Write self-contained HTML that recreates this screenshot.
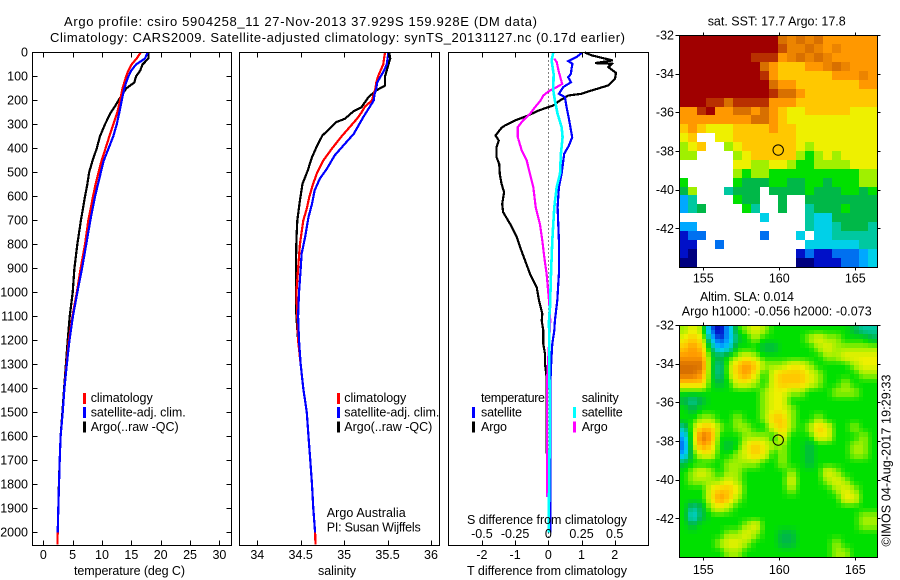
<!DOCTYPE html>
<html lang="en">
<head>
<meta charset="utf-8">
<title>Argo profile csiro 5904258_11</title>
<style>
html,body{margin:0;padding:0;background:#fff;width:900px;height:580px;overflow:hidden}
svg{display:block}
text{font-family:"Liberation Sans",sans-serif;font-size:12.5px;fill:#000}
</style>
</head>
<body>
<svg id="chart" width="900" height="580" viewBox="0 0 900 580" xmlns="http://www.w3.org/2000/svg">
  <rect x="0" y="0" width="900" height="580" fill="#fff"/>
  <text x="64" y="26" style="font-size:13px" textLength="473" lengthAdjust="spacing">Argo profile: csiro 5904258_11 27-Nov-2013 37.929S 159.928E (DM data)</text>
  <text x="50" y="42" style="font-size:13px" textLength="575" lengthAdjust="spacing">Climatology: CARS2009. Satellite-adjusted climatology: synTS_20131127.nc (0.17d earlier)</text>

  <g id="panel-temp"></g>
  <g id="panel-sal"></g>
  <g id="panel-diff"></g>
  <g id="map-sst"></g>
  <g id="map-sla"></g>

  <text x="74" y="575" textLength="111" lengthAdjust="spacing">temperature (deg C)</text>
  <text x="318" y="575" textLength="38" lengthAdjust="spacing">salinity</text>
  <text x="467" y="575" textLength="160" lengthAdjust="spacing">T difference from climatology</text>
  <text x="467" y="524" textLength="160" lengthAdjust="spacing">S difference from climatology</text>

  <g>
    <rect x="83" y="393" width="3" height="11" fill="#f00"/>
    <text x="90.7" y="402" textLength="62" lengthAdjust="spacing">climatology</text>
    <rect x="83" y="407" width="3" height="11" fill="#00f"/>
    <text x="90.7" y="416.5" textLength="95" lengthAdjust="spacing">satellite-adj. clim.</text>
    <rect x="83" y="421.5" width="3" height="11" fill="#000"/>
    <text x="90.7" y="431" textLength="88" lengthAdjust="spacing">Argo(..raw -QC)</text>
  </g>
  <g>
    <rect x="337" y="393" width="3" height="11" fill="#f00"/>
    <text x="344.3" y="402" textLength="62" lengthAdjust="spacing">climatology</text>
    <rect x="337" y="407" width="3" height="11" fill="#00f"/>
    <text x="344.3" y="416.5" textLength="95" lengthAdjust="spacing">satellite-adj. clim.</text>
    <rect x="337" y="421.5" width="3" height="11" fill="#000"/>
    <text x="344.3" y="431" textLength="88" lengthAdjust="spacing">Argo(..raw -QC)</text>
  </g>
  <text x="326.7" y="517" textLength="79" lengthAdjust="spacing">Argo Australia</text>
  <text x="326.7" y="531.5" textLength="94" lengthAdjust="spacing">PI: Susan Wijffels</text>

  <g>
    <text x="481" y="402" textLength="64" lengthAdjust="spacing">temperature</text>
    <rect x="472" y="407" width="3" height="11" fill="#00f"/>
    <text x="481" y="416.5" textLength="41" lengthAdjust="spacing">satellite</text>
    <rect x="472" y="421.5" width="3" height="11" fill="#000"/>
    <text x="481" y="431" textLength="26" lengthAdjust="spacing">Argo</text>
    <text x="581.7" y="402" textLength="37" lengthAdjust="spacing">salinity</text>
    <rect x="573" y="407" width="3" height="11" fill="#0ff"/>
    <text x="581.7" y="416.5" textLength="41" lengthAdjust="spacing">satellite</text>
    <rect x="573" y="421.5" width="3" height="11" fill="#f0f"/>
    <text x="581.7" y="431" textLength="26" lengthAdjust="spacing">Argo</text>
  </g>

  <text x="707.7" y="25.7" textLength="138" lengthAdjust="spacing">sat. SST: 17.7  Argo: 17.8</text>
  <text x="700" y="301" textLength="94" lengthAdjust="spacing">Altim. SLA: 0.014</text>
  <text x="681.7" y="315.7" textLength="190" lengthAdjust="spacing">Argo h1000: -0.056  h2000: -0.073</text>
  <text transform="translate(890.5,546.5) rotate(-90)" textLength="172" lengthAdjust="spacing">©IMOS 04-Aug-2017 19:29:33</text>
</svg>
<script>
// ---- Axis tick values ----
const depthTicks = [0,100,200,300,400,500,600,700,800,900,1000,1100,1200,1300,1400,1500,1600,1700,1800,1900,2000];
const tempTicks = [0,5,10,15,20,25,30];
const salTicks = [34,34.5,35,35.5,36];
const salTickLabels = ['34','34.5','35','35.5','36'];
const diffTTicks = [-2,-1,0,1,2];
const diffTTickLabels = ['-2','-1','0','1','2'];
const diffSTicks = [-0.5,-0.25,0,0.25,0.5];
const diffSTickLabels = ['-0.5','-0.25','0','0.25','0.5'];
const lonTicks = [155,160,165];
const latTicks = [-32,-34,-36,-38,-40,-42];

// ---- Temperature profiles (deg C) ----
const tempDepths = [0,25,50,75,100,125,150,200,225,250,300,350,400,450,500,550,600,700,800,900,1000,1100,1200,1300,1400,1500,1600,1700,1800,1900,2000,2050];
const tempClim = [16.6,15.9,15.05,14.5,14.1,13.8,13.5,13.07,12.85,12.6,11.9,11.25,10.6,9.94,9.4,8.9,8.47,7.67,7.1,6.36,5.7,4.95,4.35,3.95,3.6,3.3,2.95,2.8,2.67,2.55,2.45,2.4];
const tempSat = [17.8,17.3,15.8,15,14.5,14.1,13.8,13.35,13.15,12.95,12.5,11.9,11.1,10.3,9.8,9.3,8.8,8,7.3,6.6,5.8,5.05,4.45,4,3.6,3.3,2.95,2.8,2.67,2.55,2.45,null];
const tempArgo = [17.9,17.9,16.9,16.5,15.8,15.5,14.1,12.8,12.2,11.5,10.5,9.65,9.1,8.4,7.8,7.5,7.1,6.4,5.8,5.3,5,4.5,4.15,3.85,3.55,3.25,2.95,2.8,2.65,2.55,2.45,null];

// ---- Salinity profiles ----
const salClimDepths = [0,25,50,75,100,125,150,175,200,225,250,275,300,350,400,450,500,550,600,650,700,800,900,1000,1100,1200,1300,1400,1500,1600,1700,1800,1900,2000,2050];
const salClim = [35.47,35.46,35.45,35.42,35.39,35.37,35.36,35.34,35.32,35.24,35.2,35.15,35.09,34.97,34.86,34.76,34.69,34.64,34.6,34.57,34.53,34.49,34.47,34.45,34.46,34.47,34.5,34.53,34.57,34.59,34.61,34.63,34.645,34.665,34.67];
const salSatDepths = [0,25,50,75,100,125,150,175,200,269,339,388,429,485,526,575,631,686,769,839,900,1000,1100,1200,1300,1400,1500,1600,1700,1800,1900,2000];
const salSat = [35.51,35.5,35.49,35.46,35.42,35.38,35.37,35.35,35.34,35.22,35.11,34.99,34.89,34.8,34.72,34.66,34.63,34.59,34.55,34.51,34.5,34.48,34.47,34.48,34.5,34.53,34.57,34.59,34.61,34.63,34.645,34.665];
const salArgoDepths = [0,25,50,100,138,158,186,228,244,276,290,322,346,388,436,492,547,617,700,783,900,1000,1100,1200,1300,1400,1500,1600,1700,1800,1900,2000];
const salArgo = [35.52,35.53,35.51,35.47,35.47,35.37,35.28,35.2,35.11,35.01,34.91,34.82,34.75,34.69,34.63,34.58,34.52,34.49,34.46,34.45,34.445,34.445,34.45,34.47,34.5,34.53,34.57,34.59,34.61,34.63,34.645,34.665];

// ---- Differences from climatology ----
const dTArgoDepths = [0,12,22,33,44,47,61,85,110,137,158,172,179,200,221,242,262,283,304,314,346,367,394,436,464,506,547,582,631,665,714,769,811,867,922,978,1033,1089,1117,1158,1214,1256,1297,1353,1853];
const dTArgo = [1.10,1.31,1.61,1.94,1.41,1.91,1.81,2.04,2.01,1.81,1.31,1.0,0.6,0.35,0.15,-0.3,-0.6,-1.0,-1.31,-1.41,-1.59,-1.49,-1.56,-1.56,-1.48,-1.46,-1.41,-1.33,-1.39,-1.36,-1.15,-0.95,-0.85,-0.7,-0.55,-0.35,-0.28,-0.18,-0.2,-0.15,-0.15,-0.1,-0.1,-0.05,-0.04];
const dTSatDepths = [0,19,36,47,68,89,103,124,144,172,186,228,283,353,388,422,506,561,644,783,922,1033,1117,1158,1214,1283,1353,1464,2000];
const dTSat = [1.02,0.85,0.6,0.73,0.7,0.68,0.6,0.68,0.45,0.32,0.5,0.55,0.63,0.72,0.62,0.48,0.4,0.32,0.28,0.32,0.32,0.27,0.2,0.18,0.12,0.09,0.07,0.07,0.07];
const dSArgoDepths = [26,40,82,131,144,158,179,200,228,256,283,311,353,408,450,506,561,644,714,783,853,922,1033,1117,1367,1853];
const dSArgo = [0.045,0.063,0.08,0.105,0.063,0.013,-0.038,-0.058,-0.1,-0.138,-0.19,-0.23,-0.23,-0.2,-0.163,-0.138,-0.113,-0.095,-0.063,-0.045,-0.03,-0.013,0.005,0.015,-0.01,-0.01];
const dSSatDepths = [0,33,89,158,200,256,311,353,422,506,561,644,783,922,1061,1117,1339,1533,2000];
const dSSat = [0.038,0.025,0.04,0.038,0.05,0.07,0.1,0.108,0.095,0.088,0.063,0.045,0.03,0.02,0.013,0.005,0.008,0.012,0.002];

// ---- Float position ----
const floatLon = 159.928;
const floatLat = -37.929;

// ---- Map colour levels (0 navy ... 7 green ... 14 dark red); _ = no data ----
const _ = null;
const sstRows = [
[14,14,14,14,14,14,14,14,14,14,14,12,11.5,12,11.5,12,11,11,11,11,11,11],
[14,14,14,14,14,14,14,14,14,14,14,12.5,11.5,11.5,12,11.5,11,11.5,11,11,11,11],
[14,14,14,14,14,14,14,14,13,13,13,11,11.5,12,11.5,12,11.5,11,11,11,11,11],
[14,14,14,14,14,14,14,14,14,12,11,10,10,10,11,11,11.5,12,11.5,11,11,11],
[14,14,14,14,14,14,14,14,14,13,11,10,10,10,10,10,10,11,11,11,11.5,11],
[14,14,14,14,14,14,14,14,14,14,12,11,11,10,10,10,10,10,10,10,11,11],
[14,14,14,14,14,14,14,14,14,14,13,12,12,11,10,10,10,10,10,10,10,10],
[14,14,14,13,13,12,13,13,13,13,11,11,11,10,10,10,10,10,10,10,10,10],
[11,11,13,14,11,11,12,12,11,12,11,10,9,9,10,10,10,10,10,9,9,9],
[11,11,11,11,11,11,11,11,12,12,11,10,9,9,9,9,9,9,9,9,9,9],
[10,11,10,9,9,9,10,10,10,10,11,10,10,9,9,9,9,9,9,9,9,9],
[9,10,_,_,9,9,10,10,10,10,10,10,10,9,9,9,9,9,9,9,9,9],
[8,9,10,_,_,8,9,10,10,10,10,10,10,9,8,9,9,9,9,9,9,9],
[8,8,_,_,_,_,8,9,10,10,10,10,10,8,7,8,9,8,9,9,9,9],
[_,_,_,_,_,_,9,9,8,8,9,9,8,7,7,8,8,8,8,9,9,9],
[_,_,_,_,_,_,8,7,8,8,7,7,7,7,7,7,7,7,7,7,8,8],
[7,_,_,_,_,_,7,6,6,6,7,7,6,6,7,7,6,7,7,7,8,8],
[6,8,_,_,_,5,6,6,6,_,6,6,6,6,7,6,6,6,7,7,6,7],
[3,5,_,_,_,_,7,6,6,_,_,6,_,_,6,6,6,6,6,6,6,6],
[3,5,6,_,_,_,_,7,5,_,_,6,_,_,5,6,6,6,7,6,6,6],
[_,_,_,_,_,_,_,_,_,4,_,_,_,_,5,4,4,6,6,6,6,6],
[3,3,_,_,_,_,_,_,_,_,_,_,_,_,5,4,4,5,6,6,6,5],
[1,2,2,_,_,_,_,_,_,2,_,_,_,4,_,4,4,5,5,5,5,5],
[1,1,_,_,2,_,_,_,_,_,_,_,_,_,4,4,4,4,4,4,5,5],
[1,0,_,_,_,_,_,_,_,_,_,_,_,1,2,1,1,2,2,2,3,4],
[0,0,_,_,_,_,_,_,_,_,_,_,_,0,0,1,1,1,2,2,3,4]
];
const slaRows = [
[8,9,8,2,0.5,3,7,8,9,8,7,7,7,7,7,7,7,7,7,6,5,5],
[9,10,9,4,1,3,6,7,8,7,7,7,7,7,8,9,8,8,7,7,7,6],
[10,11,10,6,3,4,7,7,7,6,6,7,7,7,7,8,9,8,8,8,8,8],
[11,11,11,7,6,7,8,9,8,7,7,7,7,7,7,7,8,8,9,9,9,9],
[12,12,12,7,5,8,10,11,10,8,8,8,9,9,8,7,7,7,7,8,9,9],
[12,12,11,7,5,8,10,11,9,7,9,10,10,10,9,8,7,7,7,7,8,8],
[10,10,10,7,6,7,9,9,8,7,9,10,10,10,9,8,7,7,8,7,7,7],
[7,7,7,7,7,7,7,7,7,8,9,9,8,8,7,7,7,8,8,8,7,7],
[6,5,6,7,7,7,7,7,7,8,9,9,7,7,7,7,7,7,7,7,7,7],
[7,6,7,7,7,7,7,7,7,8,9,9,8,7,7,7,7,7,7,7,7,7],
[7,7,8,8,7,7,8,7,7,8,10,10,8,7,7,8,7,7,7,7,7,7],
[5,8,10,10,8,7,8,8,7,7,9,10,8,7,8,10,9,7,7,8,7,7],
[3,8,12,11,7,7,7,8,8,8,7,9,7,7,7,9,9,7,7,7,8,7],
[2,8,11,10,7,6,7,9,10,9,8,8,7,7,6,7,7,7,7,8,8,7],
[3,7,9,9,7,7,8,9,10,9,7,8,7,7,6,7,7,7,7,8,8,7],
[6,7,7,7,7,8,8,8,8,7,7,8,7,7,6,7,7,7,7,7,7,7],
[7,8,9,8,7,8,8,7,7,7,7,7,8,7,7,7,9,8,7,7,7,7],
[7,8,8,8,8,9,8,7,7,7,7,7,9,7,7,7,8,9,8,7,7,7],
[7,7,7,9,10,10,9,7,7,7,7,7,8,7,7,7,7,8,9,8,7,7],
[7,7,7,9,11,10,8,7,7,7,7,7,7,7,7,7,7,7,9,9,7,7],
[7,5,6,8,9,8,7,7,7,7,7,7,7,7,7,7,7,7,7,7,7,7],
[7,4,6,7,7,7,7,7,7,7,7,7,7,7,7,7,7,7,7,7,8,8],
[7,6,7,7,7,7,7,8,9,7,7,7,7,7,7,7,7,7,7,7,8,8],
[7,7,7,7,7,8,8,9,8,7,7,6,6,7,7,7,7,7,7,7,7,7],
[7,7,7,7,8,9,9,8,7,7,7,6,6,7,7,7,7,8,7,7,7,7],
[7,7,7,7,7,8,8,7,7,7,7,7,7,7,7,7,7,8,8,7,7,7]
];
const levelColors = ['#00007f','#0010c8','#0070f0','#00a8ff','#00d0e8','#00c8a0','#00b848','#00e000','#a0f000','#eef000','#ffc800','#ff9800','#d87000','#b83000','#a00000'];

// ---- Scales ----
const NS = 'http://www.w3.org/2000/svg';
const yDepth = d => 52.5 + d * 0.24;
const xTemp = t => 43.3 + t * 5.87;
const xSal = s => 257.3 + (s - 34) * 86.85;
const xDT = t => 548.3 + t * 33.2;
const xDS = s => xDT(4 * s);
const xLon = lon => 779.3 + (lon - 160) * 15.2;
const yLatSst = lat => 35.3 + (-32 - lat) * 19.35;
const yLatSla = lat => 325.3 + (-32 - lat) * 19.35;

function el(tag, attrs, parent) {
  const n = document.createElementNS(NS, tag);
  for (const k in attrs) n.setAttribute(k, attrs[k]);
  parent.appendChild(n);
  return n;
}
function hexRgb(h) { return [parseInt(h.slice(1,3),16),parseInt(h.slice(3,5),16),parseInt(h.slice(5,7),16)]; }
function levelColor(v) {
  const c = Math.max(0, Math.min(14, v));
  const a = Math.floor(c), b = Math.min(14, a + 1), f = c - a;
  const A = hexRgb(levelColors[a]), B = hexRgb(levelColors[b]);
  return 'rgb(' + A.map((x,i)=>Math.round(x + (B[i]-x)*f)).join(',') + ')';
}
function drawFrame(parent, x0, y0, x1, y1, name) {
  const r = el('rect', {x:x0, y:y0, width:x1-x0, height:y1-y0, fill:'none', stroke:'#000', 'stroke-width':1, 'shape-rendering':'crispEdges'}, parent);
  
  
}
function drawTick(parent, x1, y1, x2, y2) {
  const t = el('line', {x1:x1, y1:y1, x2:x2, y2:y2, stroke:'#000', 'stroke-width':1, 'shape-rendering':'crispEdges'}, parent);
  
  
}
function drawLabel(parent, x, y, str, anchor) {
  const t = el('text', {x:x, y:y, 'text-anchor':anchor}, parent);
  t.textContent = str;
  
  
}
function drawProfile(parent, depths, values, xf, color, width, name) {
  const pts = [];
  depths.forEach((d,i) => { if (values[i] !== null) pts.push(xf(values[i]).toFixed(1) + ',' + yDepth(d).toFixed(1)); });
  const p = el('polyline', {points:pts.join(' '), fill:'none', stroke:color, 'stroke-width':width, 'stroke-linejoin':'miter', 'shape-rendering':'crispEdges'}, parent);
  
  
}

const X0 = {t:32.5, s:239.5, d:448.5};
const X1 = {t:231.5, s:439.5, d:648.5};
const YT = 52.5, YB = 545.5;
const LW = 2.2;

// ---- Temperature panel ----
const gT = document.getElementById('panel-temp');
drawProfile(gT, tempDepths, tempArgo, xTemp, '#000', LW, 'temperature-argo-line');
drawProfile(gT, tempDepths, tempClim, xTemp, '#f00', LW, 'temperature-climatology-line');
drawProfile(gT, tempDepths, tempSat, xTemp, '#00f', LW, 'temperature-satellite-line');
drawFrame(gT, X0.t, YT, X1.t, YB, 'temperature-panel-frame');
tempTicks.forEach(t => {
  const x = Math.round(xTemp(t)) + 0.5;
  drawTick(gT, x, YT, x, YT + 5);
  drawTick(gT, x, YB, x, YB - 5);
  drawLabel(gT, xTemp(t), 559, String(t), 'middle');
});
depthTicks.forEach(d => {
  const y = Math.round(yDepth(d) - 0.5) + 0.5;
  drawTick(gT, X0.t, y, X0.t + 5, y);
  drawTick(gT, X1.t, y, X1.t - 5, y);
  drawLabel(gT, 28, yDepth(d) + 4, String(d), 'end');
});

// ---- Salinity panel ----
const gS = document.getElementById('panel-sal');
drawProfile(gS, salArgoDepths, salArgo, xSal, '#000', LW, 'salinity-argo-line');
drawProfile(gS, salClimDepths, salClim, xSal, '#f00', LW, 'salinity-climatology-line');
drawProfile(gS, salSatDepths, salSat, xSal, '#00f', LW, 'salinity-satellite-line');
drawFrame(gS, X0.s, YT, X1.s, YB, 'salinity-panel-frame');
salTicks.forEach((s,i) => {
  const x = Math.round(xSal(s)) + 0.5;
  drawTick(gS, x, YT, x, YT + 5);
  drawTick(gS, x, YB, x, YB - 5);
  drawLabel(gS, xSal(s), 559, salTickLabels[i], 'middle');
});

// ---- Difference panel ----
const gD = document.getElementById('panel-diff');
const zero = el('line', {x1:548.5, y1:YT, x2:548.5, y2:YB, stroke:'#000', 'stroke-width':1, 'stroke-dasharray':'1 3', 'shape-rendering':'crispEdges'}, gD);


drawProfile(gD, dTArgoDepths, dTArgo, xDT, '#000', LW, 'difference-t-argo-line');
drawProfile(gD, dTSatDepths, dTSat, xDT, '#00f', LW, 'difference-t-satellite-line');
drawProfile(gD, dSArgoDepths, dSArgo, xDS, '#f0f', LW, 'difference-s-argo-line');
drawProfile(gD, dSSatDepths, dSSat, xDS, '#0ff', 2.6, 'difference-s-satellite-line');
drawFrame(gD, X0.d, YT, X1.d, YB, 'difference-panel-frame');
diffTTicks.forEach((t,i) => {
  const x = Math.round(xDT(t)) + 0.5;
  drawTick(gD, x, YT, x, YT + 5);
  drawTick(gD, x, YB, x, YB - 5);
  drawLabel(gD, xDT(t), 559, diffTTickLabels[i], 'middle');
});
diffSTicks.forEach((s,i) => {
  drawLabel(gD, xDS(s), 538, diffSTickLabels[i], 'middle');
});

// ---- Maps ----
function drawMapAxes(parent, top, bottom, yLat, labelY, frameName) {
  const L = 679.5, R = 877.5;
  drawFrame(parent, L, top, R, bottom, frameName);
  lonTicks.forEach(lon => {
    const x = Math.round(xLon(lon)) + 0.5;
    drawTick(parent, x, top, x, top - 3);
    drawTick(parent, x, bottom, x, bottom + 3);
    drawLabel(parent, xLon(lon), labelY, String(lon), 'middle');
  });
  latTicks.forEach(lat => {
    const y = Math.round(yLat(lat) - 0.5) + 0.5;
    drawTick(parent, L, y, L - 4, y);
    drawTick(parent, R, y, R + 3, y);
    drawLabel(parent, 674, yLat(lat) + 4, String(lat), 'end');
  });
  const c = el('circle', {cx:xLon(floatLon), cy:yLat(floatLat), r:5.2, fill:'none', stroke:'#000', 'stroke-width':1}, parent);
  
  
}

const gM1 = document.getElementById('map-sst');
const M = {x:679.5, w:197, rows:26, cols:22};
sstRows.forEach((row, r) => {
  row.forEach((v, c) => {
    if (v === null) return;
    const x0 = Math.round(M.x + c * M.w / M.cols), x1 = Math.round(M.x + (c + 1) * M.w / M.cols);
    const y0 = Math.round(35.5 + r * 231 / M.rows), y1 = Math.round(35.5 + (r + 1) * 231 / M.rows);
    const cell = el('rect', {x:x0, y:y0, width:x1-x0, height:y1-y0, fill:levelColor(v), 'shape-rendering':'crispEdges'}, gM1);
    
    
  });
});
drawMapAxes(gM1, 35.5, 267.5, yLatSst, 282.7, 'sst-map-frame');

const gM2 = document.getElementById('map-sla');
function slaAt(cf, rf) {
  const c = Math.max(0, Math.min(M.cols - 1, cf)), r = Math.max(0, Math.min(M.rows - 1, rf));
  const c0 = Math.floor(c), r0 = Math.floor(r), c1 = Math.min(M.cols - 1, c0 + 1), r1 = Math.min(M.rows - 1, r0 + 1);
  const fx = c - c0, fy = r - r0;
  return (slaRows[r0][c0]*(1-fx) + slaRows[r0][c1]*fx)*(1-fy) + (slaRows[r1][c0]*(1-fx) + slaRows[r1][c1]*fx)*fy;
}
for (let r = 0; r < M.rows * 2; r++) {
  for (let c = 0; c < M.cols * 2; c++) {
    const x0 = Math.round(M.x + c * M.w / (M.cols * 2)), x1 = Math.round(M.x + (c + 1) * M.w / (M.cols * 2));
    const y0 = Math.round(325.5 + r * 231 / (M.rows * 2)), y1 = Math.round(325.5 + (r + 1) * 231 / (M.rows * 2));
    const cell = el('rect', {x:x0, y:y0, width:x1-x0, height:y1-y0, fill:levelColor(slaAt((c - 0.5) / 2, (r - 0.5) / 2)), 'shape-rendering':'crispEdges'}, gM2);
    
    
  }
}
drawMapAxes(gM2, 325.5, 557.5, yLatSla, 574, 'sla-map-frame');
</script>
</body>
</html>
